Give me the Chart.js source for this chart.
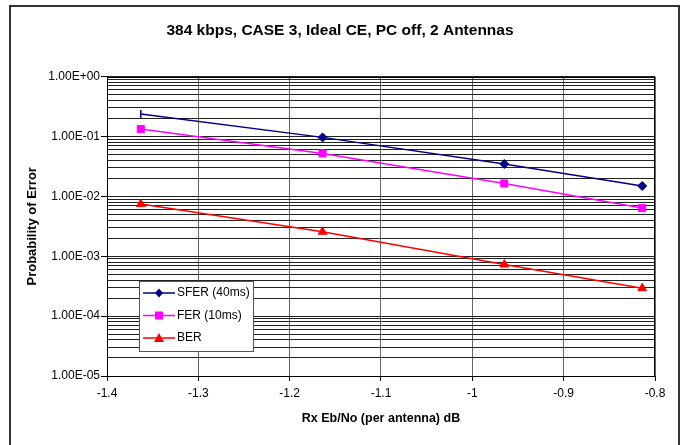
<!DOCTYPE html>
<html>
<head>
<meta charset="utf-8">
<script src="https://cdn.jsdelivr.net/npm/chart.js@4.4.0/dist/chart.umd.min.js"></script>
<style>
  html, body { margin: 0; padding: 0; background: #fff; }
  canvas { display: block; }
</style>
</head>
<body>
<canvas id="chart" width="691" height="445"></canvas>
<script>
// Rx Eb/No (per antenna) in dB
const ebNo = [-1.363, -1.164, -0.965, -0.814];
const sfer = [0.238, 0.0966, 0.0347, 0.0149];
const fer = [0.133, 0.0522, 0.0164, 0.00637];
const ber = [0.00743, 0.00256, 0.000726, 0.000293];
const decades = [1e-5, 1e-4, 1e-3, 1e-2, 1e-1, 1e0];
const seriesNames = ["SFER (40ms)", "FER (10ms)", "BER"];

const FONT = "'Liberation Sans', Arial, sans-serif";

function toPoints(ys) {
    return ebNo.map((x, i) => ({ x, y: ys[i] }));
}

function sciLabel(v) {
    const exp = Math.round(Math.log10(v));
    const mant = v / Math.pow(10, exp);
    const sign = exp < 0 ? "-" : "+";
    const e = String(Math.abs(exp)).padStart(2, "0");
    return mant.toFixed(2) + "E" + sign + e;
}

function isDecade(v) {
    return decades.some((d) => Math.abs(v - d) / d < 1e-6);
}

function drawMarker(ctx, style, x, y, color) {
    ctx.save();
    ctx.fillStyle = color;
    ctx.beginPath();
    if (style === "rectRot") {
        ctx.moveTo(x, y - 4.5);
        ctx.lineTo(x + 4, y);
        ctx.lineTo(x, y + 4.5);
        ctx.lineTo(x - 4, y);
    } else if (style === "rect") {
        ctx.rect(x - 4, y - 4, 8, 8);
    } else {
        ctx.moveTo(x, y - 5);
        ctx.lineTo(x + 5, y + 4);
        ctx.lineTo(x - 5, y + 4);
    }
    ctx.closePath();
    ctx.fill();
    ctx.restore();
}

const frame = {
    id: "frame",
    beforeDraw(chart) {
        const ctx = chart.ctx;
        ctx.save();
        ctx.fillStyle = "#fff";
        ctx.fillRect(0, 0, chart.width, chart.height);
        ctx.strokeStyle = "#333";
        ctx.lineWidth = 2;
        ctx.strokeRect(10, 6, 669, 460);
        ctx.restore();
    },
    afterDraw(chart) {
        const ctx = chart.ctx;
        const area = chart.chartArea;
        // plot area outline
        ctx.save();
        ctx.strokeStyle = "#000";
        ctx.lineWidth = 1;
        ctx.strokeRect(Math.round(area.left) + 0.5, Math.round(area.top) + 0.5,
            Math.round(area.right - area.left) - 1, Math.round(area.bottom - area.top));
        ctx.restore();

        // legend box inside plot area
        const bx = Math.round(area.left) + 32;
        const by = Math.round(area.top) + 204;
        const bw = 114;
        const bh = 70;
        ctx.save();
        ctx.fillStyle = "#fff";
        ctx.fillRect(bx, by, bw, bh);
        ctx.strokeStyle = "#555";
        ctx.lineWidth = 1;
        ctx.strokeRect(bx + 0.5, by + 0.5, bw, bh);
        ctx.font = "12px " + FONT;
        ctx.textBaseline = "middle";
        ctx.textAlign = "left";
        chart.data.datasets.forEach((ds, i) => {
            const y = by + 12 + i * 22.5;
            ctx.strokeStyle = ds.borderColor;
            ctx.lineWidth = 1.5;
            ctx.beginPath();
            ctx.moveTo(bx + 4, y);
            ctx.lineTo(bx + 36, y);
            ctx.stroke();
            drawMarker(ctx, ds.legendStyle, bx + 20, y, ds.borderColor);
            ctx.fillStyle = "#000";
            ctx.fillText(ds.label, bx + 38, y);
        });
        ctx.restore();
    },
};

const config = {
    type: "line",
    data: {
        datasets: [
            {
                label: seriesNames[0],
                data: toPoints(sfer),
                borderColor: "#000080",
                backgroundColor: "#000080",
                borderWidth: 1.5,
                pointStyle: ["line", "rectRot", "rectRot", "rectRot"],
                pointRotation: [90, 0, 0, 0],
                pointRadius: [4, 4.5, 4.5, 4.5],
                pointBorderWidth: [1.5, 1, 1, 1],
                legendStyle: "rectRot",
            },
            {
                label: seriesNames[1],
                data: toPoints(fer),
                borderColor: "#ff00ff",
                backgroundColor: "#ff00ff",
                borderWidth: 1.5,
                pointStyle: "rect",
                pointRadius: 5,
                pointBorderWidth: 1,
                legendStyle: "rect",
            },
            {
                label: seriesNames[2],
                data: toPoints(ber),
                borderColor: "#ff0000",
                backgroundColor: "#ff0000",
                borderWidth: 1.5,
                pointStyle: "triangle",
                pointRadius: 5,
                pointBorderWidth: 1,
                legendStyle: "triangle",
            },
        ],
    },
    options: {
        responsive: false,
        animation: false,
        devicePixelRatio: 1,
        layout: { padding: { left: 25, right: 36, top: 6, bottom: 9 } },
        plugins: {
            legend: { display: false },
            tooltip: { enabled: false },
            title: {
                display: true,
                text: "384 kbps, CASE 3, Ideal CE, PC off, 2 Antennas",
                color: "#000",
                font: { family: FONT, size: 15.5, weight: "bold" },
                padding: { top: 15, bottom: 37 },
            },
        },
        scales: {
            x: {
                type: "linear",
                min: -1.4,
                max: -0.8,
                afterFit(scale) { scale.height = 60; },
                ticks: {
                    stepSize: 0.1,
                    color: "#000",
                    font: { family: FONT, size: 12 },
                    padding: 5,
                    maxRotation: 0,
                    callback: (v) => String(Number(v.toFixed(1))),
                },
                grid: {
                    color: (c) => (c.index === 0 ? "#000" : "#666"),
                    lineWidth: 1,
                    tickLength: 5,
                    tickColor: "#000",
                },
                border: { color: "#000" },
                title: {
                    display: true,
                    text: "Rx Eb/No (per antenna) dB",
                    color: "#000",
                    font: { family: FONT, size: 12.5, weight: "bold" },
                    padding: { top: 4, bottom: 10 },
                },
            },
            y: {
                type: "logarithmic",
                min: 1e-5,
                max: 1,
                afterFit(scale) { scale.width = 82; },
                afterBuildTicks(scale) {
                    const ticks = [];
                    for (let k = 0; k < decades.length - 1; k++) {
                        for (let m = 1; m <= 9; m++) {
                            ticks.push({ value: m * decades[k], major: m === 1 });
                        }
                    }
                    ticks.push({ value: decades[decades.length - 1], major: true });
                    scale.ticks = ticks;
                },
                ticks: {
                    autoSkip: false,
                    color: "#000",
                    font: { family: FONT, size: 12 },
                    padding: 1,
                    callback: (v) => (isDecade(v) ? sciLabel(v) : ""),
                },
                grid: {
                    color: "#222",
                    lineWidth: 1,
                    tickLength: 6,
                    tickColor: (c) => (c.tick && isDecade(c.tick.value) ? "#000" : "rgba(0,0,0,0)"),
                },
                border: { color: "#000" },
                title: {
                    display: true,
                    text: "Probability of Error",
                    color: "#000",
                    font: { family: FONT, size: 13, weight: "bold" },
                    padding: { top: 0, bottom: 4 },
                },
            },
        },
    },
    plugins: [frame],
};

new Chart(document.getElementById("chart"), config);
</script>
</body>
</html>
